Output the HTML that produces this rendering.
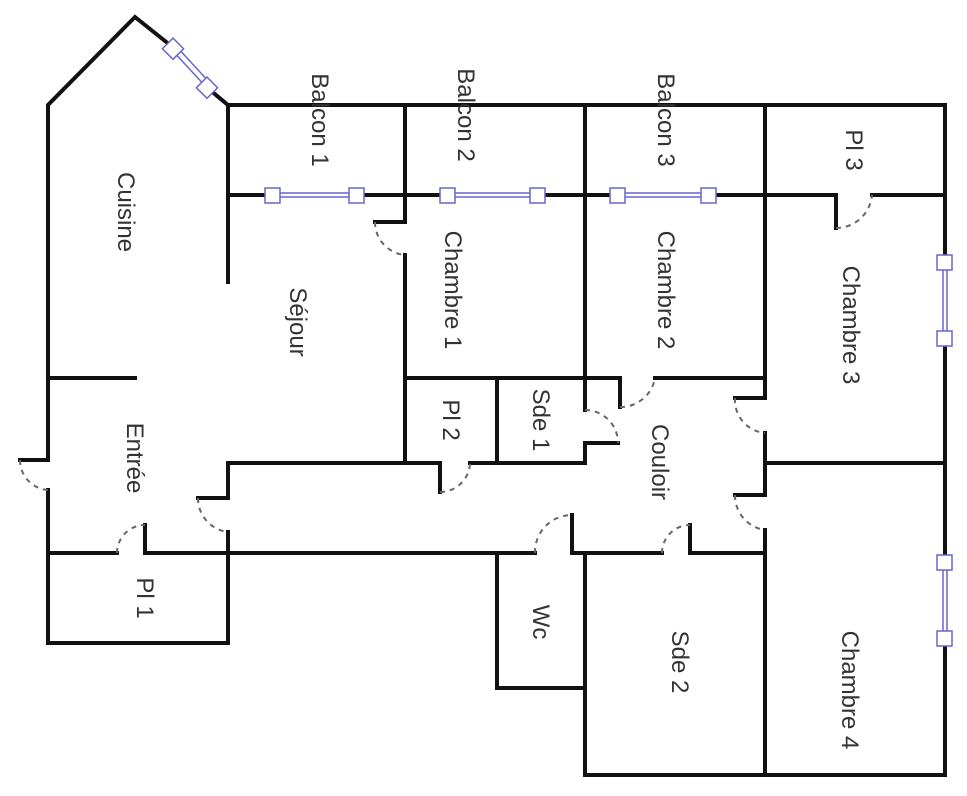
<!DOCTYPE html>
<html><head><meta charset="utf-8"><style>
html,body{margin:0;padding:0;background:#fff;}
svg{display:block;}
text{font-family:"Liberation Sans","DejaVu Sans",sans-serif;font-size:24px;fill:#333;}
</style></head><body>
<svg width="967" height="796" viewBox="0 0 967 796" xmlns="http://www.w3.org/2000/svg">
<g stroke="#111" stroke-width="4" fill="none" stroke-linecap="square">
<polyline points="48,460 48,105 135,17 170,45"/>
<line x1="210" y1="90" x2="228" y2="105"/>
<line x1="48" y1="490" x2="48" y2="643"/>
<polyline points="48,643 228,643 228,532"/>
<polyline points="228,498 228,463 440,463"/>
<line x1="470" y1="463" x2="585" y2="463"/>
<line x1="48" y1="378" x2="135" y2="378"/>
<line x1="228" y1="105" x2="945" y2="105"/>
<line x1="228" y1="105" x2="228" y2="282"/>
<line x1="945" y1="105" x2="945" y2="258"/>
<line x1="945" y1="345" x2="945" y2="560"/>
<line x1="945" y1="645" x2="945" y2="775"/>
<line x1="228" y1="195" x2="270" y2="195"/>
<line x1="357" y1="195" x2="445" y2="195"/>
<line x1="538" y1="195" x2="615" y2="195"/>
<line x1="710" y1="195" x2="836" y2="195"/>
<line x1="872" y1="195" x2="945" y2="195"/>
<line x1="405" y1="105" x2="405" y2="222"/>
<line x1="405" y1="255" x2="405" y2="463"/>
<line x1="585" y1="105" x2="585" y2="378"/>
<line x1="765" y1="105" x2="765" y2="398"/>
<line x1="765" y1="433" x2="765" y2="495"/>
<line x1="765" y1="530" x2="765" y2="775"/>
<line x1="405" y1="378" x2="620" y2="378"/>
<line x1="655" y1="378" x2="765" y2="378"/>
<line x1="497" y1="378" x2="497" y2="463"/>
<line x1="585" y1="378" x2="585" y2="410"/>
<line x1="585" y1="443" x2="585" y2="463"/>
<line x1="765" y1="463" x2="945" y2="463"/>
<line x1="48" y1="553" x2="117" y2="553"/>
<line x1="145" y1="553" x2="535" y2="553"/>
<line x1="572" y1="553" x2="662" y2="553"/>
<line x1="690" y1="553" x2="765" y2="553"/>
<polyline points="497,553 497,688 585,688"/>
<polyline points="585,553 585,775 945,775"/>
<line x1="20" y1="460" x2="48" y2="460"/>
<line x1="198" y1="498" x2="228" y2="498"/>
<line x1="145" y1="553" x2="145" y2="525"/>
<line x1="375" y1="222" x2="405" y2="222"/>
<line x1="440" y1="463" x2="440" y2="492"/>
<line x1="585" y1="443" x2="618" y2="443"/>
<line x1="620" y1="378" x2="620" y2="407"/>
<line x1="572" y1="553" x2="572" y2="515"/>
<line x1="690" y1="553" x2="690" y2="525"/>
<line x1="735" y1="398" x2="765" y2="398"/>
<line x1="735" y1="495" x2="765" y2="495"/>
<line x1="836" y1="195" x2="836" y2="228"/>
</g>
<g stroke="#666" stroke-width="2" fill="none" stroke-dasharray="5,5">
<path d="M20,460 A30,30 0 0 0 48,490"/>
<path d="M198,498 A34,34 0 0 0 228,532"/>
<path d="M117,553 A28,28 0 0 1 145,525"/>
<path d="M375,222 A33,33 0 0 0 405,255"/>
<path d="M440,492 A30,30 0 0 0 470,463"/>
<path d="M585,410 A33,33 0 0 1 618,443"/>
<path d="M620,407 A35,35 0 0 0 655,378"/>
<path d="M535,553 A37,37 0 0 1 572,515"/>
<path d="M662,553 A28,28 0 0 1 690,525"/>
<path d="M735,398 A33,33 0 0 0 765,433"/>
<path d="M735,495 A35,35 0 0 0 765,530"/>
<path d="M836,228 A36,36 0 0 0 872,195"/>
</g>
<g stroke="#6666cc" stroke-width="1.5" fill="#fff">
<line x1="270" y1="193" x2="357" y2="193"/><line x1="270" y1="197" x2="357" y2="197"/>
<line x1="445" y1="193" x2="538" y2="193"/><line x1="445" y1="197" x2="538" y2="197"/>
<line x1="615" y1="193" x2="710" y2="193"/><line x1="615" y1="197" x2="710" y2="197"/>
<line x1="943" y1="262" x2="943" y2="340"/><line x1="947" y1="262" x2="947" y2="340"/>
<line x1="943" y1="562" x2="943" y2="643"/><line x1="947" y1="562" x2="947" y2="643"/>
<line x1="172" y1="50" x2="207" y2="88"/><line x1="176" y1="46" x2="211" y2="84"/>
<rect x="265" y="188" width="15" height="15"/><rect x="349" y="188" width="15" height="15"/>
<rect x="440" y="188" width="15" height="15"/><rect x="530" y="188" width="15" height="15"/>
<rect x="610" y="188" width="15" height="15"/><rect x="701" y="188" width="15" height="15"/>
<rect x="937" y="255" width="15" height="15"/><rect x="937" y="331" width="15" height="15"/>
<rect x="937" y="555" width="15" height="15"/><rect x="937" y="631" width="15" height="15"/>
<rect x="166" y="41" width="15" height="15" transform="rotate(45 173 48)"/>
<rect x="200" y="80" width="15" height="15" transform="rotate(45 207 87)"/>
</g>
<g>
<text transform="translate(118,212) rotate(90)" text-anchor="middle">Cuisine</text>
<text transform="translate(312,120) rotate(90)" text-anchor="middle">Balcon 1</text>
<text transform="translate(458,115) rotate(90)" text-anchor="middle">Balcon 2</text>
<text transform="translate(658,120) rotate(90)" text-anchor="middle">Balcon 3</text>
<text transform="translate(846,150) rotate(90)" text-anchor="middle">Pl 3</text>
<text transform="translate(290,322) rotate(90)" text-anchor="middle">Séjour</text>
<text transform="translate(445,290) rotate(90)" text-anchor="middle">Chambre 1</text>
<text transform="translate(658,290) rotate(90)" text-anchor="middle">Chambre 2</text>
<text transform="translate(843,325) rotate(90)" text-anchor="middle">Chambre 3</text>
<text transform="translate(443,420) rotate(90)" text-anchor="middle">Pl 2</text>
<text transform="translate(533,420) rotate(90)" text-anchor="middle">Sde 1</text>
<text transform="translate(652,462) rotate(90)" text-anchor="middle">Couloir</text>
<text transform="translate(127,458) rotate(90)" text-anchor="middle">Entrée</text>
<text transform="translate(137,598) rotate(90)" text-anchor="middle">Pl 1</text>
<text transform="translate(533,622) rotate(90)" text-anchor="middle">Wc</text>
<text transform="translate(672,662) rotate(90)" text-anchor="middle">Sde 2</text>
<text transform="translate(842,690) rotate(90)" text-anchor="middle">Chambre 4</text>
</g>
</svg>
</body></html>
